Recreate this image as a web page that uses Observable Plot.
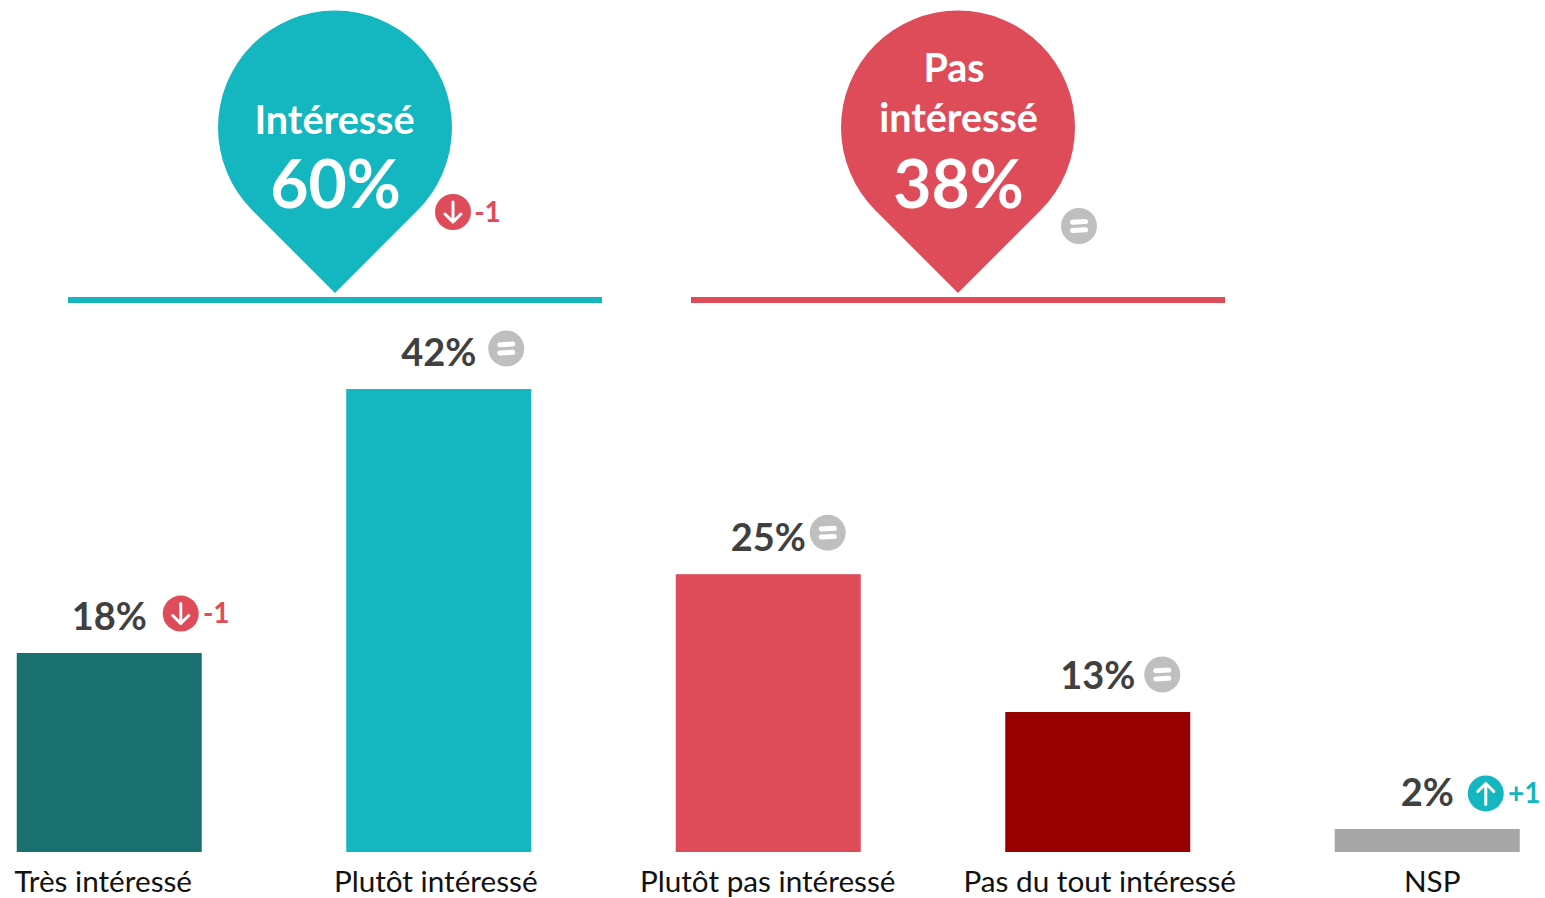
<!DOCTYPE html>
<html lang="fr">
<head>
<meta charset="utf-8">
<title>Intérêt</title>
<script src="https://cdn.jsdelivr.net/npm/d3@7"></script>
<script src="https://cdn.jsdelivr.net/npm/@observablehq/plot@0.6"></script>
<style>
html,body{margin:0;padding:0;background:#fff;overflow:hidden}
svg{display:block}
</style>
</head>
<body>
<div id="top"></div>
<div id="bottom"></div>
<script>
// ---- Data
const categories = ["Très intéressé", "Plutôt intéressé", "Plutôt pas intéressé", "Pas du tout intéressé", "NSP"];
const barHeights = [18.05, 42, 25.2, 12.7, 2.09];
const valueLabels = ["18%", "42%", "25%", "13%", "2%"];
const barTrends = ["down", "same", "same", "same", "up"];
const barDeltas = ["-1", "", "", "", "+1"];
const barColors = ["#18706F", "#14B6BF", "#DE4C5A", "#960000", "#A6A6A6"];

const groups = ["Intéressé", "Pas intéressé"];
const groupValues = ["60%", "38%"];
const groupTrends = ["down", "same"];
const groupDeltas = ["-1", ""];
const groupColors = ["#14B6BF", "#DE4C5A"];

// ---- Layout offsets (px)
const labelDx = [-6.5, -3.5, -1, 1.5, 4.5];
const badgeDx = [71, 67, 59, 64, 58];
const badgeDy = [-40, -41, -42, -38, -36];
const deltaDx = [106.5, 0, 0, 0, 96.5];
const groupBadgeDx = [117.5, 120.5];
const groupBadgeDy = [-88, -74];
const font = "Lato, Carlito, sans-serif";
const trendColor = {down: "#DE4C5A", same: "#BFBFBF", up: "#14B6BF"};

// ---- Custom symbols
const pin = {draw(c, size) {
  const R = Math.sqrt(size / Math.PI), s = Math.SQRT2, cy = -R * s;
  c.moveTo(0, 0);
  c.lineTo(-R / s, cy + R / s);
  c.arc(0, cy, R, 3 * Math.PI / 4, 9 * Math.PI / 4, false);
  c.closePath();
}};
const arrowDown = {draw(c) {
  c.moveTo(0, -10); c.lineTo(0, 10);
  c.moveTo(-8, 2); c.lineTo(0, 10); c.lineTo(8, 2);
}};
const arrowUp = {draw(c) {
  c.moveTo(0, 11); c.lineTo(0, -10);
  c.moveTo(-8, -2); c.lineTo(0, -10); c.lineTo(8, -2);
}};
const equalSign = {draw(c) {
  c.moveTo(-6.5, -3.8); c.lineTo(6.5, -4.4);
  c.moveTo(-6.5, 4.4); c.lineTo(6.5, 3.8);
}};
const glyph = {down: arrowDown, up: arrowUp, same: equalSign};

function badge(data, opts, trend, dx, dy) {
  return [
    Plot.dot(data, {...opts, r: 18, fill: trendColor[trend], stroke: "none", dx, dy}),
    Plot.dot(data, {...opts, r: 10, symbol: glyph[trend], fill: "none", stroke: "#fff",
      strokeWidth: trend === "same" ? 5 : 3, strokeLinecap: "round", strokeLinejoin: "round", dx, dy})
  ];
}

// ---- Top panel: the two summary pins
const topMarks = [
  Plot.tickY(groups, {x: d => d, y: () => 0, stroke: d => d, strokeWidth: 6}),
  Plot.dot(groups, {x: d => d, y: () => 0, r: 117, symbol: pin, fill: d => d, stroke: "none", dx: -0.5, dy: -7}),
  Plot.text(["Intéressé"], {x: d => d, y: () => 0, text: d => d, dx: -1, dy: -166.5, lineAnchor: "bottom",
    fontSize: 39.5, fontWeight: 700, fill: "#fff"}),
  Plot.text(["Pas intéressé"], {x: d => d, y: () => 0, text: () => "Pas", dx: -4.5, dy: -218.5, lineAnchor: "bottom",
    fontSize: 39.5, fontWeight: 700, fill: "#fff"}),
  Plot.text(["Pas intéressé"], {x: d => d, y: () => 0, text: () => "intéressé", dy: -168.5, lineAnchor: "bottom",
    fontSize: 39.5, fontWeight: 700, fill: "#fff"}),
  ...groups.flatMap((g, i) => [
    Plot.text([g], {x: d => d, y: () => 0, text: () => groupValues[i], dy: -92.5, lineAnchor: "bottom",
      fontSize: 66, fontWeight: 700, fill: "#fff"}),
    ...badge([g], {x: d => d, y: () => 0}, groupTrends[i], groupBadgeDx[i], groupBadgeDy[i]),
    Plot.text([g], {x: d => d, y: () => 0, text: () => groupDeltas[i], dx: groupBadgeDx[i] + 34.5, dy: groupBadgeDy[i] + 1,
      fontSize: 28, fontWeight: 700, fill: trendColor[groupTrends[i]]})
  ])
];

const topPlot = Plot.plot({
  width: 1545, height: 305,
  marginLeft: 68, marginRight: 320, marginTop: 0, marginBottom: 5.5,
  style: {background: "transparent", fontFamily: font, overflow: "visible"},
  x: {type: "band", domain: groups, paddingInner: 89 / 623, paddingOuter: 0, round: false, axis: null},
  y: {domain: [0, 1], axis: null},
  color: {domain: groups, range: groupColors},
  marks: topMarks
});

// ---- Bottom panel: the bars
const rows = categories.map((c, i) => ({c, h: barHeights[i]}));
const bottomMarks = [
  Plot.barY(rows, {x: "c", y: "h", fill: "c"}),
  ...categories.map((c, i) => Plot.axisX({ticks: [c], tickSize: 0, tickPadding: 18, label: null, dx: labelDx[i],
    fontSize: 29.7, fill: "#111", lineAnchor: "top"})),
  Plot.text(rows, {x: "c", y: "h", text: (d, i) => valueLabels[i], dy: -23.5, dx: -0.5, lineAnchor: "bottom",
    fontSize: 38, fontWeight: 700, fill: "#404040"}),
  ...rows.flatMap((r, i) => [
    ...badge([r], {x: "c", y: "h"}, barTrends[i], badgeDx[i], badgeDy[i]),
    barDeltas[i] ? Plot.text([r], {x: "c", y: "h", text: () => barDeltas[i], dx: deltaDx[i], dy: badgeDy[i] + 1,
      fontSize: 28, fontWeight: 700, fill: trendColor[barTrends[i]]}) : null
  ])
];

const bottomPlot = Plot.plot({
  width: 1545, height: 593,
  marginLeft: 16.75, marginRight: 25.25, marginTop: 84, marginBottom: 46,
  style: {background: "transparent", fontFamily: font, overflow: "visible"},
  x: {type: "band", domain: categories, paddingInner: 144.5 / 329.5, paddingOuter: 0, round: false, axis: null},
  y: {domain: [0, 42], axis: null},
  color: {domain: categories, range: barColors},
  marks: bottomMarks
});

document.getElementById("top").append(topPlot);
document.getElementById("bottom").append(bottomPlot);
</script>
</body>
</html>
